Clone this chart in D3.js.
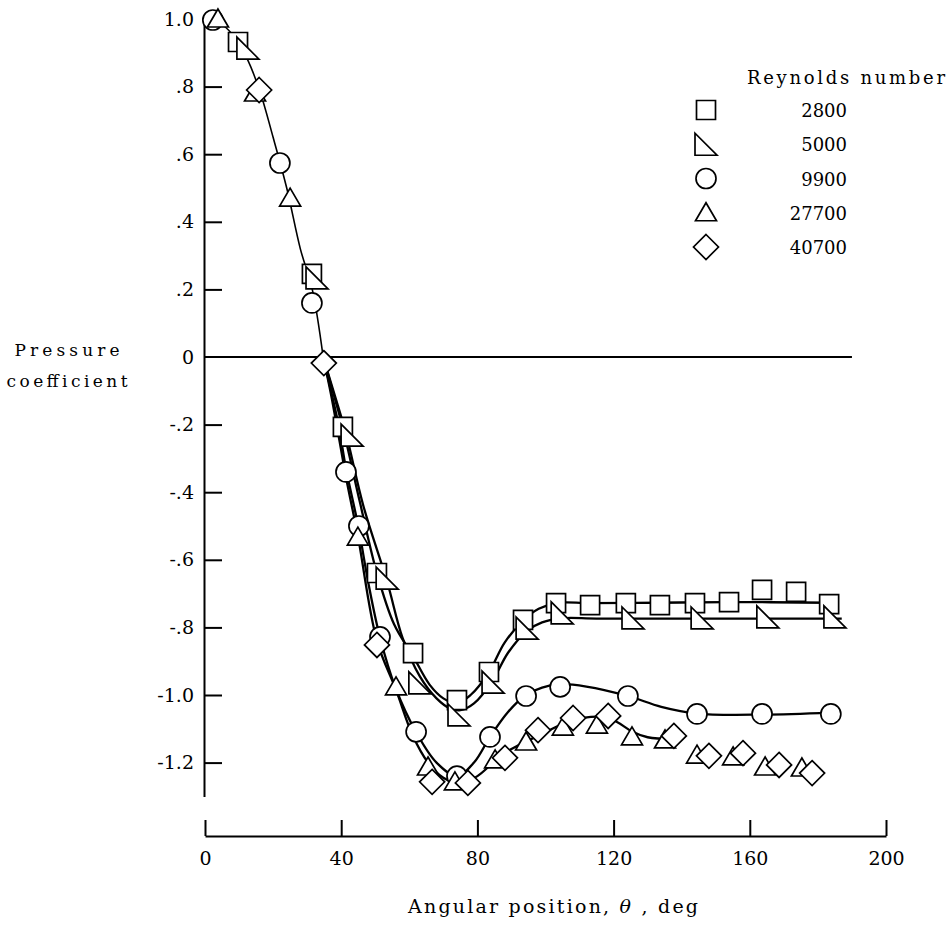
<!DOCTYPE html>
<html>
<head>
<meta charset="utf-8">
<script src="https://cdn.jsdelivr.net/npm/d3@7"></script>
<style>
body{margin:0;background:#fff;}
text{font-family:"DejaVu Serif",serif;fill:#000;}
</style>
</head>
<body>
<div id="grafico"></div>
<script>
const WIDTH = 949;
const HEIGHT = 925;

// tick values and labels
const xTicks = [0,40,80,120,160,200];
const yTicks = [-1.2,-1.0,-0.8,-0.6,-0.4,-0.2,0,0.2,0.4,0.6,0.8,1.0];
const yTickLabels = ["-1.2","-1.0","-.8","-.6","-.4","-.2","0",".2",".4",".6",".8","1.0"];

// legend
const reynolds = ["2800","5000","9900","27700","40700"];
const symbols = ["square","rightTriangle","circle","triangle","diamond"];

// measured points [theta deg, Cp]
const re2800 = [[9.7,0.932],[31.4,0.246],[40.5,-0.207],[50.5,-0.639],[61.1,-0.876],[74.0,-1.015],[83.4,-0.932],[93.4,-0.778],[103.1,-0.728],[113.1,-0.734],[123.6,-0.728],[133.6,-0.734],[143.9,-0.728],[153.9,-0.725],[163.6,-0.689],[173.6,-0.695],[183.3,-0.731]];
const re5000 = [[12.6,0.914],[32.9,0.234],[43.2,-0.231],[53.5,-0.654],[63.1,-0.964],[74.6,-1.059],[84.6,-0.962],[94.6,-0.802],[104.9,-0.757],[125.7,-0.772],[146.0,-0.772],[165.3,-0.769],[185.0,-0.769]];
const re9900 = [[2.3,0.997],[22.0,0.574],[31.4,0.160],[41.4,-0.340],[45.2,-0.500],[51.4,-0.828],[62.0,-1.109],[74.0,-1.240],[83.7,-1.124],[94.3,-1.003],[104.3,-0.976],[124.2,-1.003],[144.5,-1.056],[163.6,-1.056],[183.8,-1.056]];
const re27700 = [[3.8,1.0],[14.7,0.781],[25.0,0.470],[44.9,-0.533],[56.1,-0.976],[65.5,-1.213],[73.4,-1.257],[85.2,-1.192],[94.3,-1.139],[105.1,-1.095],[115.1,-1.089],[125.4,-1.124],[135.1,-1.133],[144.5,-1.178],[155.1,-1.183],[164.5,-1.213],[175.3,-1.216]];
const re40700 = [[15.9,0.790],[34.9,-0.018],[50.5,-0.852],[66.7,-1.257],[77.2,-1.260],[88.1,-1.186],[97.8,-1.104],[108.1,-1.068],[118.4,-1.062],[137.7,-1.121],[148.0,-1.180],[158.0,-1.172],[168.6,-1.207],[178.3,-1.231]];

// faired curves
const curveTop = [[0,1.0],[4,0.99],[8,0.955],[12,0.89],[16,0.79],[20,0.65],[24,0.5],[28,0.32],[31.5,0.2],[34.7,0.0]];
const curve2800 = [[34.7,0],[37.5,-0.1],[40.5,-0.21],[45.5,-0.43],[50.5,-0.64],[55.5,-0.79],[61.1,-0.885],[66,-0.97],[70,-1.01],[74,-1.025],[78,-1.0],[83.4,-0.932],[88,-0.845],[93.4,-0.78],[98,-0.745],[103.1,-0.728],[113,-0.728],[133,-0.727],[153,-0.725],[183.3,-0.727]];
const curve5000 = [[34.7,0],[38,-0.11],[41.5,-0.23],[46.5,-0.44],[53.5,-0.665],[58,-0.83],[63.1,-0.945],[68,-1.01],[72,-1.04],[75,-1.045],[79,-1.025],[84.6,-0.955],[89,-0.875],[94.6,-0.81],[99,-0.785],[104.9,-0.773],[115,-0.774],[146,-0.774],[187,-0.774]];
const curve9900 = [[34.7,0],[37,-0.1],[39.2,-0.2],[41.4,-0.33],[45,-0.5],[48,-0.67],[51.4,-0.83],[56,-0.98],[62,-1.11],[68,-1.2],[74,-1.24],[79,-1.2],[83.7,-1.124],[89,-1.05],[94.3,-1.0],[99,-0.978],[104.3,-0.968],[112,-0.975],[124.2,-1.003],[134,-1.035],[144.5,-1.055],[164,-1.058],[183.8,-1.052]];
const curve27700 = [[34.7,0],[37,-0.11],[39,-0.22],[41.5,-0.36],[44.9,-0.53],[50.5,-0.84],[56.1,-0.985],[61,-1.12],[65.5,-1.2],[70,-1.245],[75,-1.262],[80,-1.24],[85.2,-1.195],[90,-1.16],[94.3,-1.138],[100,-1.11],[105.1,-1.085],[111,-1.068],[117,-1.065],[121,-1.08],[125.4,-1.108],[130,-1.125],[137.7,-1.13]];

let svg = d3.select("#grafico")
    .append("svg")
    .attr("width",WIDTH)
    .attr("height",HEIGHT);

let x = d3.scaleLinear().domain([0,200]).range([205,886]);
let y = d3.scaleLinear().domain([-1.3,1.0]).range([796.4,19]);

// y axis, ticks pointing inwards
let yAxis = svg.append("g")
    .attr("transform","translate(204,0)")
    .call(d3.axisLeft(y)
        .tickValues(yTicks)
        .tickFormat((d,i)=>yTickLabels[i])
        .tickSize(-18)
        .tickSizeOuter(0)
        .tickPadding(10));
yAxis.selectAll(".tick").filter(d=>d==1.0 || d==0).select("line").remove();

// x axis, drawn apart below the plot
let xAxis = svg.append("g")
    .attr("transform","translate(0,836)")
    .call(d3.axisBottom(x)
        .tickValues(xTicks)
        .tickSize(-16)
        .tickSizeOuter(0)
        .tickPadding(16));

svg.selectAll(".domain, .tick line")
    .attr("stroke","#000")
    .attr("stroke-width",2);
svg.selectAll(".tick text")
    .attr("font-family","DejaVu Serif")
    .attr("font-size",19);

// zero line
svg.append("line")
    .attr("x1",x(0))
    .attr("x2",x(190))
    .attr("y1",y(0))
    .attr("y2",y(0))
    .attr("stroke","#000")
    .attr("stroke-width",2.2);

let line = d3.line()
    .x(d=>x(d[0]))
    .y(d=>y(d[1]))
    .curve(d3.curveCatmullRom.alpha(0.5));

svg.append("path")
    .attr("d",line(curveTop))
    .attr("fill","none")
    .attr("stroke","#000")
    .attr("stroke-width",1.6);

[curve2800,curve5000,curve9900,curve27700].forEach((c)=>{
    svg.append("path")
        .attr("d",line(c))
        .attr("fill","none")
        .attr("stroke","#000")
        .attr("stroke-width",2.3);
});

// marker shapes
function shape(type){
    let p = d3.path();
    switch(type){
        case "square":
            p.rect(-9.5,-9.5,19,19);
            break;
        case "circle":
            p.arc(0,0,10,0,2*Math.PI);
            break;
        case "triangle":
            p.moveTo(0,-10); p.lineTo(10.5,8); p.lineTo(-10.5,8); p.closePath();
            break;
        case "rightTriangle":
            p.moveTo(-11,-11); p.lineTo(-11,11); p.lineTo(11,11); p.closePath();
            break;
        case "diamond":
            p.moveTo(0,-12.5); p.lineTo(12.5,0); p.lineTo(0,12.5); p.lineTo(-12.5,0); p.closePath();
            break;
    }
    return p.toString();
}

function drawMarkers(data,type){
    svg.append("g")
        .selectAll("path")
        .data(data)
        .enter()
        .append("path")
        .attr("d",shape(type))
        .attr("transform",d=>"translate("+x(d[0])+","+y(d[1])+")")
        .attr("fill","#fff")
        .attr("stroke","#000")
        .attr("stroke-width",1.7);
}

drawMarkers(re2800,"square");
drawMarkers(re9900,"circle");
drawMarkers(re27700,"triangle");
drawMarkers(re5000,"rightTriangle");
drawMarkers(re40700,"diamond");

// axis titles
svg.append("text")
    .attr("x",67).attr("y",356)
    .attr("text-anchor","middle")
    .attr("font-size",17)
    .attr("textLength",105)
    .attr("lengthAdjust","spacing")
    .text("Pressure");
svg.append("text")
    .attr("x",67).attr("y",387)
    .attr("text-anchor","middle")
    .attr("font-size",17)
    .attr("textLength",121)
    .attr("lengthAdjust","spacing")
    .text("coefficient");

let xTitle = svg.append("text")
    .attr("x",408).attr("y",913)
    .attr("font-size",19)
    .attr("textLength",290)
    .attr("lengthAdjust","spacing");
xTitle.append("tspan").text("Angular position,  ");
xTitle.append("tspan").attr("font-style","italic").text("\u03b8");
xTitle.append("tspan").text(" , deg");

// legend
svg.append("text")
    .attr("x",747).attr("y",84)
    .attr("font-size",18)
    .attr("textLength",198)
    .attr("lengthAdjust","spacing")
    .text("Reynolds number");

let legendY = d3.scalePoint().domain(reynolds).range([110,247]);
let legend = svg.append("g");
reynolds.forEach((r,i)=>{
    legend.append("path")
        .attr("d",shape(symbols[i]))
        .attr("transform","translate(706,"+legendY(r)+")")
        .attr("fill","#fff")
        .attr("stroke","#000")
        .attr("stroke-width",1.7);
    legend.append("text")
        .attr("x",847)
        .attr("y",legendY(r)+7)
        .attr("text-anchor","end")
        .attr("font-size",18)
        .text(r);
});
</script>
</body>
</html>
